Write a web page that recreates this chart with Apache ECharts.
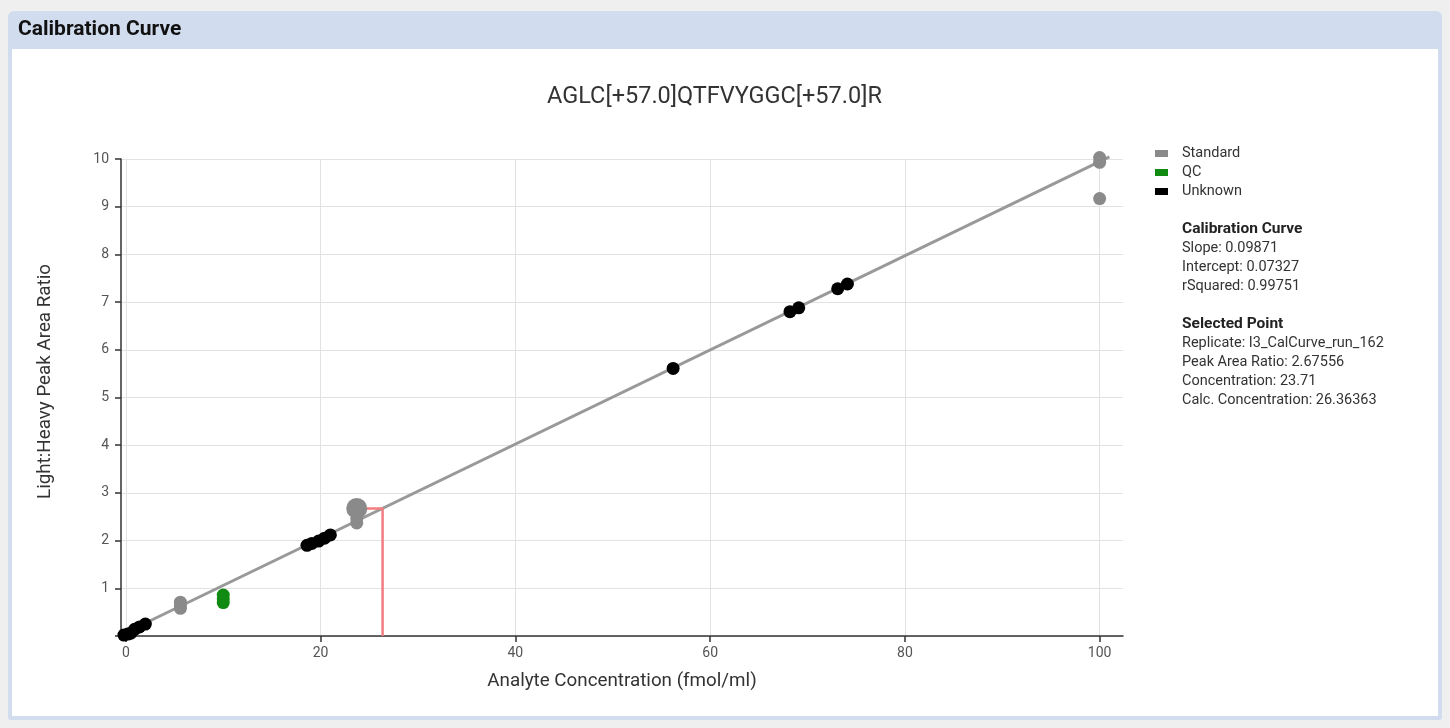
<!DOCTYPE html>
<html>
<head>
<meta charset="utf-8">
<script src="https://cdn.jsdelivr.net/npm/echarts@6/dist/echarts.min.js"></script>
<style>
html,body{margin:0;padding:0;background:#efefef;}
#chart{width:1450px;height:728px;}
</style>
</head>
<body>
<div id="chart"></div>
<script>
// ---- data ----
const chartTitle = 'AGLC[+57.0]QTFVYGGC[+57.0]R';
const legendNames = ['Standard', 'QC', 'Unknown'];
const xTicks = [0, 20, 40, 60, 80, 100];
const yTicks = [1, 2, 3, 4, 5, 6, 7, 8, 9, 10];

const standardPoints = [
  [5.6, 0.58], [5.6, 0.64], [5.6, 0.71],
  [23.71, 2.72], [23.71, 2.60], [23.71, 2.46], [23.71, 2.37],
  [100, 10.03], [100, 9.93], [100, 9.17]
];
const qcPoints = [
  [10, 0.70], [10, 0.78], [10, 0.86]
];
const unknownPoints = [
  [-0.2, 0.02], [0.2, 0.04], [0.5, 0.06],
  [0.9, 0.14], [1.4, 0.19], [2.0, 0.25],
  [18.6, 1.90], [19.1, 1.94], [19.8, 1.99], [20.4, 2.05], [21.0, 2.12],
  [56.2, 5.61],
  [68.2, 6.80], [69.1, 6.88],
  [73.1, 7.28], [74.1, 7.38]
];
const selectedPoint = [[23.71, 2.67556]];

const slope = 0.09871;
const intercept = 0.07327;
const rSquared = 0.99751;
const curveXRange = [0, 101];
const calcConcentration = 26.36363;

const curveInfoTitle = 'Calibration Curve';
const curveInfoLines = ['Slope: 0.09871', 'Intercept: 0.07327', 'rSquared: 0.99751'];
const selectedInfoTitle = 'Selected Point';
const selectedInfoLines = ['Replicate: I3_CalCurve_run_162', 'Peak Area Ratio: 2.67556', 'Concentration: 23.71', 'Calc. Concentration: 26.36363'];

// derived
const curveLine = curveXRange.map(x => [x, intercept + slope * x]);
const selLine = [
  [selectedPoint[0][0], selectedPoint[0][1]],
  [calcConcentration, selectedPoint[0][1]],
  [calcConcentration, 0]
];

const FONT = 'Roboto, "Noto Sans", sans-serif';
const chart = echarts.init(document.getElementById('chart'), null, {renderer: 'canvas'});

function txt(x, y, t, font, fill) {
  return {type: 'text', x: x, y: y, style: {text: t, font: font, fill: fill, verticalAlign: 'middle', align: 'left'}};
}
const infoTexts = [];
infoTexts.push(txt(1182, 229, curveInfoTitle, 'bold 15.5px ' + FONT, '#222'));
curveInfoLines.forEach((t, i) => infoTexts.push(txt(1182, 248 + i * 19, t, '14.5px ' + FONT, '#333')));
infoTexts.push(txt(1182, 324, selectedInfoTitle, 'bold 15.5px ' + FONT, '#222'));
selectedInfoLines.forEach((t, i) => infoTexts.push(txt(1182, 343 + i * 19, t, '14.5px ' + FONT, '#333')));

const option = {
  animation: false,
  backgroundColor: '#efefef',
  textStyle: {fontFamily: FONT},
  title: {
    text: chartTitle,
    left: 542,
    top: 80,
    textStyle: {fontSize: 23.5, fontWeight: 'normal', color: '#333', fontFamily: FONT}
  },
  legend: {
    data: legendNames,
    orient: 'vertical',
    left: 1155,
    top: 146,
    padding: 0,
    itemWidth: 13,
    itemHeight: 7,
    itemGap: 4,
    icon: 'rect',
    textStyle: {fontSize: 14.5, color: '#333', fontFamily: FONT, padding: [0, 0, 0, 9]}
  },
  grid: {left: 121, right: 327, top: 159, bottom: 92, containLabel: false},
  xAxis: {
    type: 'value',
    min: -0.5,
    max: 102.4,
    name: 'Analyte Concentration (fmol/ml)',
    nameLocation: 'middle',
    nameGap: 36,
    nameTextStyle: {fontSize: 18.8, color: '#333', fontFamily: FONT},
    axisLine: {show: true, onZero: false, lineStyle: {color: '#333', width: 1.5}},
    axisTick: {show: true, length: 6, lineStyle: {color: '#333', width: 1.5}, customValues: xTicks},
    axisLabel: {fontSize: 14, color: '#555', margin: 10, customValues: xTicks},
    splitLine: {show: true, lineStyle: {color: '#e2e2e2', width: 1}}
  },
  yAxis: {
    type: 'value',
    min: 0,
    max: 10,
    interval: 1,
    name: 'Light:Heavy Peak Area Ratio',
    nameLocation: 'middle',
    nameGap: 66,
    nameTextStyle: {fontSize: 18.8, color: '#333', fontFamily: FONT, padding: [0, 0, 0, 32]},
    axisLine: {show: true, onZero: false, lineStyle: {color: '#333', width: 1.5}},
    axisTick: {show: true, length: 6, lineStyle: {color: '#333', width: 1.5}},
    axisLabel: {fontSize: 14, color: '#555', margin: 12, formatter: v => (v === 0 ? '' : String(v))},
    splitLine: {show: true, lineStyle: {color: '#e2e2e2', width: 1}}
  },
  graphic: [
    {type: 'rect', left: 8, top: 11, z: -10, shape: {width: 1434, height: 709, r: [6, 6, 3, 3]}, style: {fill: '#d1dcee'}},
    {type: 'rect', left: 12, top: 49, z: -9, shape: {width: 1426, height: 667}, style: {fill: '#ffffff'}},
    txt(18, 30, 'Calibration Curve', 'bold 21px ' + FONT, '#111')
  ].concat(infoTexts),
  series: [
    {
      name: 'curve', type: 'line', data: curveLine, symbol: 'none', silent: true, z: 1, clip: false,
      lineStyle: {color: '#999999', width: 3}
    },
    {
      name: 'selection', type: 'line', data: selLine, symbol: 'none', silent: true, z: 1, clip: false,
      lineStyle: {color: '#f27d80', width: 2.5}
    },
    {
      name: 'Standard', type: 'scatter', data: standardPoints, symbolSize: 13, z: 3, clip: false,
      itemStyle: {color: '#8a8a8a', opacity: 1}
    },
    {
      name: 'QC', type: 'scatter', data: qcPoints, symbolSize: 13, z: 3, clip: false,
      itemStyle: {color: '#108a10', opacity: 1}
    },
    {
      name: 'Unknown', type: 'scatter', data: unknownPoints, symbolSize: 13, z: 3, clip: false,
      itemStyle: {color: '#000000', opacity: 1}
    },
    {
      name: 'selectedPoint', type: 'scatter', data: selectedPoint, symbolSize: 21, z: 4, clip: false,
      itemStyle: {color: '#8a8a8a', opacity: 1}
    }
  ]
};
chart.setOption(option);
</script>
</body>
</html>
